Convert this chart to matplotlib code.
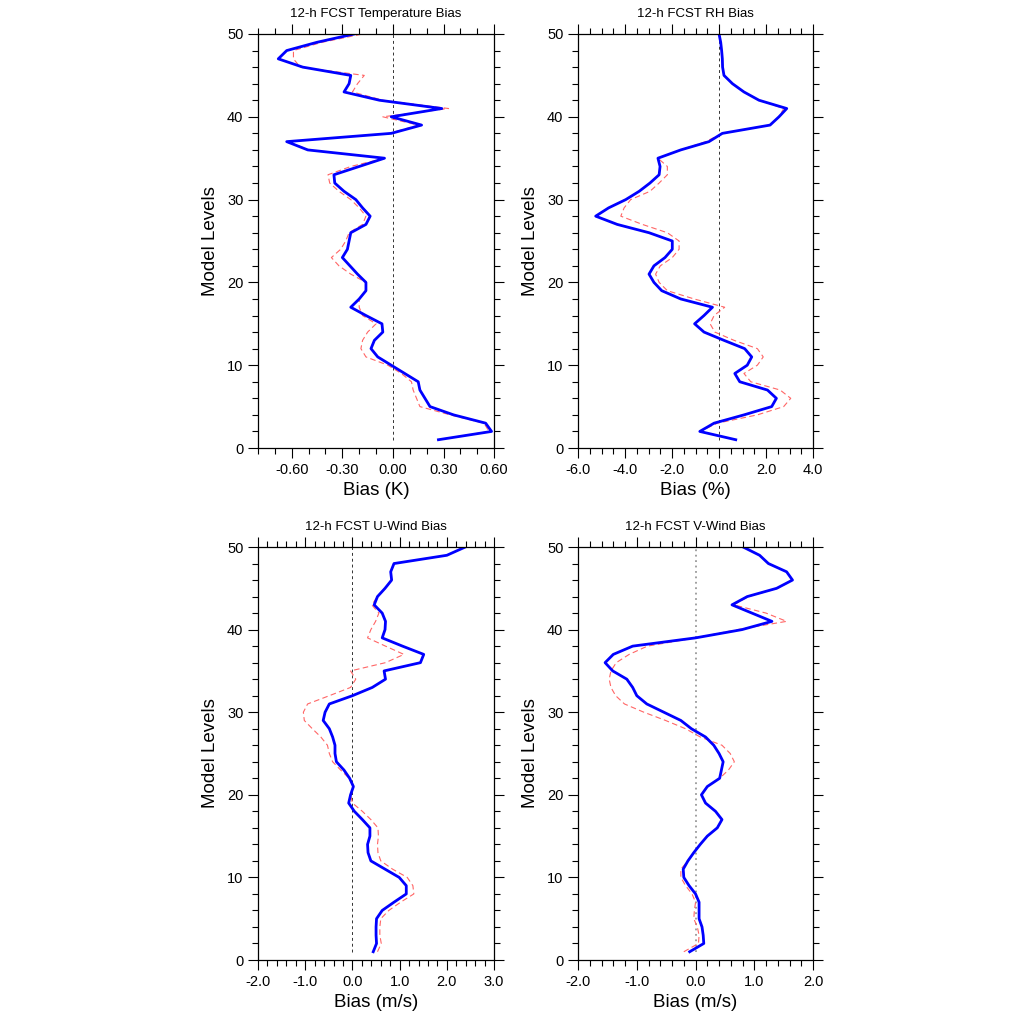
import matplotlib
matplotlib.use('Agg')
import matplotlib.pyplot as plt
from matplotlib.ticker import MultipleLocator, FormatStrFormatter
import numpy as np

plt.rcParams['font.family'] = ['Liberation Sans', 'DejaVu Sans']

levels = np.arange(1, 51)

# values listed from level 1 up to level 50
t_blue = [0.27, 0.585, 0.55, 0.36, 0.22, 0.19, 0.16, 0.15, 0.07, -0.01,
          -0.09, -0.13, -0.11, -0.06, -0.065, -0.16, -0.25, -0.2, -0.16, -0.16,
          -0.21, -0.255, -0.30, -0.27, -0.26, -0.25, -0.16, -0.135, -0.18, -0.22,
          -0.29, -0.345, -0.35, -0.2, -0.05, -0.505, -0.63, -0.01, 0.17, -0.01,
          0.29, -0.08, -0.29, -0.26, -0.25, -0.535, -0.68, -0.63, -0.45, -0.23]
t_red = [0.27, 0.57, 0.54, 0.34, 0.16, 0.14, 0.12, 0.11, 0.05, -0.03,
         -0.16, -0.19, -0.18, -0.15, -0.10, -0.18, -0.20, -0.20, -0.16, -0.16,
         -0.25, -0.32, -0.365, -0.31, -0.28, -0.26, -0.18, -0.16, -0.20, -0.25,
         -0.32, -0.375, -0.385, -0.25, -0.05, -0.50, -0.62, -0.02, 0.15, -0.06,
         0.33, -0.06, -0.24, -0.21, -0.17, -0.55, -0.59, -0.59, -0.42, -0.18]

rh_blue = [0.71, -0.82, -0.21, 1.06, 2.24, 2.44, 2.06, 0.88, 0.67, 1.2,
           1.39, 1.09, 0.21, -0.64, -1.04, -0.64, -0.28, -1.63, -2.44, -2.77,
           -2.98, -2.77, -2.3, -1.99, -1.99, -2.98, -4.33, -5.25, -4.7, -3.97,
           -3.4, -2.94, -2.55, -2.51, -2.6, -1.63, -0.43, 0.14, 2.17, 2.55,
           2.88, 1.7, 1.06, 0.57, 0.21, 0.15, 0.14, 0.11, 0.07, 0.0]
rh_red = [0.71, -0.82, -0.07, 1.63, 2.75, 3.05, 2.6, 1.35, 1.06, 1.63,
          1.88, 1.63, 0.64, -0.18, -0.38, -0.21, 0.24, -1.06, -2.2, -2.55,
          -2.7, -2.5, -1.99, -1.7, -1.7, -2.2, -3.26, -4.18, -4.04, -3.76,
          -2.94, -2.55, -2.2, -2.2, -2.6, -1.63, -0.57, 0.14, 2.17, 2.55,
          2.75, 1.7, 1.06, 0.57, 0.21, 0.15, 0.14, 0.11, 0.07, 0.0]

u_blue = [0.44, 0.51, 0.5, 0.5, 0.51, 0.63, 0.88, 1.14, 1.14, 0.99,
          0.69, 0.39, 0.33, 0.32, 0.37, 0.37, 0.21, 0.04, -0.08, -0.04,
          0.02, -0.06, -0.18, -0.34, -0.37, -0.37, -0.42, -0.49, -0.62, -0.58,
          -0.49, 0.0, 0.42, 0.7, 0.67, 1.44, 1.51, 1.06, 0.63, 0.69,
          0.7, 0.63, 0.46, 0.53, 0.69, 0.83, 0.81, 0.88, 2.0, 2.39]
u_red = [0.53, 0.61, 0.58, 0.58, 0.60, 0.77, 1.02, 1.30, 1.28, 1.16,
         0.85, 0.60, 0.54, 0.53, 0.55, 0.54, 0.39, 0.21, 0.0, -0.04,
         0.02, -0.07, -0.25, -0.42, -0.49, -0.53, -0.67, -0.85, -1.02, -1.04,
         -0.95, -0.49, -0.04, 0.07, -0.04, 0.70, 1.09, 0.70, 0.32, 0.39,
         0.49, 0.56, 0.41, 0.53, 0.69, 0.83, 0.81, 0.88, 2.0, 2.39]

v_blue = [-0.1, 0.14, 0.13, 0.11, 0.06, 0.06, 0.06, 0.0, -0.11, -0.2,
          -0.21, -0.13, -0.03, 0.08, 0.2, 0.37, 0.45, 0.34, 0.17, 0.1,
          0.2, 0.41, 0.44, 0.47, 0.40, 0.31, 0.17, -0.07, -0.25, -0.54,
          -0.83, -1.0, -1.07, -1.17, -1.41, -1.54, -1.4, -1.07, 0.0, 0.79,
          1.3, 0.96, 0.62, 0.88, 1.38, 1.65, 1.55, 1.24, 1.09, 0.81]
v_red = [-0.2, 0.05, 0.06, 0.03, -0.03, -0.02, 0.0, -0.06, -0.17, -0.25,
         -0.25, -0.13, -0.03, 0.08, 0.2, 0.37, 0.45, 0.34, 0.17, 0.1,
         0.2, 0.41, 0.56, 0.66, 0.59, 0.45, 0.08, -0.17, -0.51, -0.88,
         -1.21, -1.36, -1.44, -1.47, -1.44, -1.35, -1.13, -0.82, 0.0, 0.71,
         1.55, 1.2, 0.65, 0.9, 1.4, 1.65, 1.55, 1.24, 1.09, 0.81]

titles = ['12-h FCST Temperature Bias', '12-h FCST RH Bias',
          '12-h FCST U-Wind Bias', '12-h FCST V-Wind Bias']
xlabels = ['Bias (K)', 'Bias (%)', 'Bias (m/s)', 'Bias (m/s)']
xlims = [(-0.8, 0.6), (-6.0, 4.0), (-2.0, 3.0), (-2.0, 2.0)]
xmajor = [0.3, 2.0, 1.0, 1.0]
xminor = [0.1, 0.5, 0.2, 0.2]
xfmt = ['%.2f', '%.1f', '%.1f', '%.1f']
blues = [t_blue, rh_blue, u_blue, v_blue]
reds = [t_red, rh_red, u_red, v_red]

# axes boxes in figure fractions [left, bottom, width, height]
boxes = [[0.252, 0.5625, 0.2305, 0.4043], [0.5645, 0.5625, 0.2295, 0.4043],
         [0.252, 0.0625, 0.2305, 0.4033], [0.5645, 0.0625, 0.2295, 0.4033]]

fig = plt.figure(figsize=(10.24, 10.24), dpi=100)
for i in range(4):
    ax = fig.add_axes(boxes[i])
    if i == 3:
        ax.plot([0, 0], [1, 50], color='#999999', ls=(0, (1, 2)), lw=1.3)
    else:
        ax.plot([0, 0], [1, 50], color='#333333', ls=(0, (3, 3)), lw=0.7)
    ax.plot(reds[i], levels, color='#ff6666', ls=(0, (5, 3)), lw=0.8)
    ax.plot(blues[i], levels, color='#0000ff', lw=2.0)
    ax.set_xlim(xlims[i])
    ax.set_ylim(0, 50)
    ax.xaxis.set_major_locator(MultipleLocator(xmajor[i]))
    ax.xaxis.set_minor_locator(MultipleLocator(xminor[i]))
    ax.yaxis.set_major_locator(MultipleLocator(10))
    ax.yaxis.set_minor_locator(MultipleLocator(2))
    ax.xaxis.set_major_formatter(FormatStrFormatter(xfmt[i]))
    ax.tick_params(which='both', direction='out', top=True, right=True,
                   labelsize=10.5, width=0.8)
    ax.tick_params(which='major', length=7)
    ax.tick_params(which='minor', length=4)
    for s in ax.spines.values():
        s.set_linewidth(0.9)
    ax.set_title(titles[i], fontsize=9.5, pad=12)
    ax.set_xlabel(xlabels[i], fontsize=13.5, labelpad=4)
    ax.set_ylabel('Model Levels', fontsize=13.5, labelpad=6)

fig.savefig('out.png', dpi=100)
